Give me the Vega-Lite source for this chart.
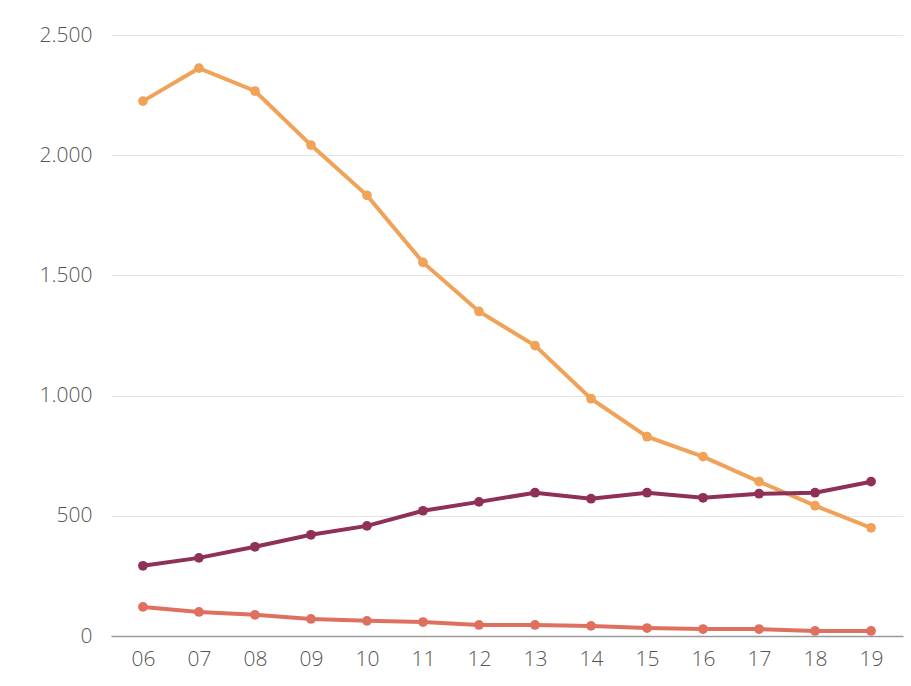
{
  "$schema": "https://vega.github.io/schema/vega-lite/v6.json",
  "width": 792,
  "height": 601,
  "autosize": {"type": "none"},
  "padding": {"left": 111, "top": 35, "right": 8, "bottom": 50},
  "background": "white",
  "config": {
    "view": {"stroke": null},
    "font": "Open Sans",
    "axis": {"labelFont": "Open Sans", "labelColor": "#555555", "labelFontSize": 21, "labelFontWeight": 300}
  },
  "data": {
    "values": [
      {"year": "06", "series": "A", "value": 2225},
      {"year": "07", "series": "A", "value": 2362},
      {"year": "08", "series": "A", "value": 2267},
      {"year": "09", "series": "A", "value": 2042},
      {"year": "10", "series": "A", "value": 1833},
      {"year": "11", "series": "A", "value": 1554},
      {"year": "12", "series": "A", "value": 1350},
      {"year": "13", "series": "A", "value": 1208},
      {"year": "14", "series": "A", "value": 987},
      {"year": "15", "series": "A", "value": 829},
      {"year": "16", "series": "A", "value": 746},
      {"year": "17", "series": "A", "value": 642},
      {"year": "18", "series": "A", "value": 542},
      {"year": "19", "series": "A", "value": 450},
      {"year": "06", "series": "B", "value": 292},
      {"year": "07", "series": "B", "value": 325},
      {"year": "08", "series": "B", "value": 371},
      {"year": "09", "series": "B", "value": 421},
      {"year": "10", "series": "B", "value": 458},
      {"year": "11", "series": "B", "value": 521},
      {"year": "12", "series": "B", "value": 558},
      {"year": "13", "series": "B", "value": 596},
      {"year": "14", "series": "B", "value": 571},
      {"year": "15", "series": "B", "value": 596},
      {"year": "16", "series": "B", "value": 575},
      {"year": "17", "series": "B", "value": 592},
      {"year": "18", "series": "B", "value": 596},
      {"year": "19", "series": "B", "value": 642},
      {"year": "06", "series": "C", "value": 121},
      {"year": "07", "series": "C", "value": 100},
      {"year": "08", "series": "C", "value": 88},
      {"year": "09", "series": "C", "value": 71},
      {"year": "10", "series": "C", "value": 63},
      {"year": "11", "series": "C", "value": 58},
      {"year": "12", "series": "C", "value": 46},
      {"year": "13", "series": "C", "value": 46},
      {"year": "14", "series": "C", "value": 42},
      {"year": "15", "series": "C", "value": 33},
      {"year": "16", "series": "C", "value": 29},
      {"year": "17", "series": "C", "value": 29},
      {"year": "18", "series": "C", "value": 21},
      {"year": "19", "series": "C", "value": 21}
    ]
  },
  "encoding": {
    "x": {
      "field": "year", "type": "ordinal",
      "scale": {"type": "point", "padding": 0.57},
      "axis": {"title": null, "labelAngle": 0, "ticks": false, "domain": true, "domainColor": "#9a9a9a", "domainWidth": 1.5, "labelPadding": 12, "grid": false}
    },
    "y": {
      "field": "value", "type": "quantitative",
      "scale": {"domain": [0, 2500], "nice": false},
      "axis": {"title": null, "values": [0, 500, 1000, 1500, 2000, 2500], "ticks": false, "domain": false, "labelPadding": 19, "gridColor": "#e3e3e3", "gridWidth": 1.2,
        "labelExpr": "replace(format(datum.value, ','), ',', '.')"}
    },
    "color": {
      "field": "series", "type": "nominal", "legend": null,
      "scale": {"domain": ["A", "B", "C"], "range": ["#f0a258", "#8f3059", "#df705f"]}
    }
  },
  "layer": [
    {"mark": {"type": "line", "strokeWidth": 4}},
    {"mark": {"type": "point", "filled": true, "size": 95, "opacity": 1}}
  ]
}
